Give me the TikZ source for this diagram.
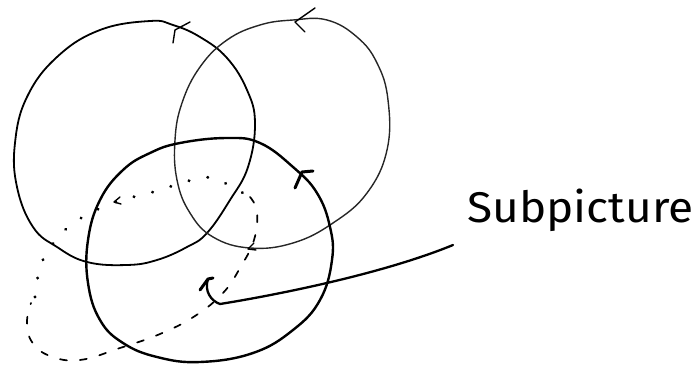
\documentclass[tikz,border=0pt]{standalone}
\usepackage{fontspec}
\newfontfamily\hand[FakeStretch=1.07]{Fira Sans}
\begin{document}
\begin{tikzpicture}[x=1pt,y=-1pt,line cap=round,line join=round,
  ringA/.style={line width=1.8pt,black},
  ringB/.style={line width=1.4pt,black!85},
  ringC/.style={line width=2.4pt,black},
  tipthin/.style={line width=1.4pt,black},
  tipthick/.style={line width=3pt,black},
  dotline/.style={line width=3.2pt,dash pattern=on 0.1pt off 19pt},
  dashline/.style={line width=1.7pt,dash pattern=on 7pt off 13pt},
  pointer/.style={line width=2.3pt,black},
  lbl/.style={font=\hand\fontsize{43}{43}\selectfont,inner sep=0pt,anchor=base west}]
\useasboundingbox (0,0) rectangle (698,366);
% left ring
\draw[ringA] plot[smooth cycle,tension=0.7] coordinates {
 (173,25) (150,21) (100,30) (57,57) (27,97) (15,143) (17,187) (33,227)
 (57,247) (87,262) (127,265) (157,260) (187,247) (207,233) (230,200)
 (248,167) (255,123) (247,90) (227,58) (200,37)};
% right ring
\draw[ringB] plot[smooth cycle,tension=0.7] coordinates {
 (293,20) (327,20) (357,37) (377,63) (388,100) (387,150) (367,193) (333,223)
 (293,243) (250,248) (213,237) (190,213) (177,180) (175,140) (182,103)
 (200,67) (227,40) (260,25)};
% bottom ring
\draw[ringC] plot[smooth cycle,tension=0.7] coordinates {
 (227,138) (260,143) (293,167) (317,193) (330,227) (332,260) (320,300)
 (293,330) (253,353) (200,362) (157,357) (123,343) (100,320) (88,283)
 (88,240) (100,200) (123,170) (150,153) (180,143)};
% arrow marks on rings
\draw[tipthin] (190,22) -- (175,30) -- (173,43);
\draw[tipthin] (315,8) -- (295,22) -- (305,32);
\draw[tipthin] (254,243) -- (248,249) -- (256,250);
\draw[tipthin] (120,197) -- (114,202) -- (121,204);
\draw[tipthick] (295,188) -- (302,172) -- (313,171);
% loop around the middle
\draw[dotline] plot[smooth,tension=0.7] coordinates {
 (35,297) (40,268) (52,245) (75,222) (113,203) (153,192) (192,180) (213,178)
 (232,187) (250,197)};
\draw[dashline] plot[smooth,tension=0.7] coordinates {
 (250,197) (257,212) (254,240) (240,268) (223,293) (195,316) (160,334)
 (120,348) (80,360) (50,356) (32,342) (27,322) (31,303)};
% label and pointer
\node[lbl] (label) at (467,222) {Subpicture};
\coordinate (start) at (453,245);
\coordinate (bend) at (220,304);
\coordinate (tip) at (208,279);
\draw[pointer] (start) .. controls (380,275) and (270,296) .. (bend)
  .. controls (211,301) and (204,291) .. (tip);
\draw[tipthick] (200,290) -- (tip) -- (213,278);
\end{tikzpicture}
\end{document}
